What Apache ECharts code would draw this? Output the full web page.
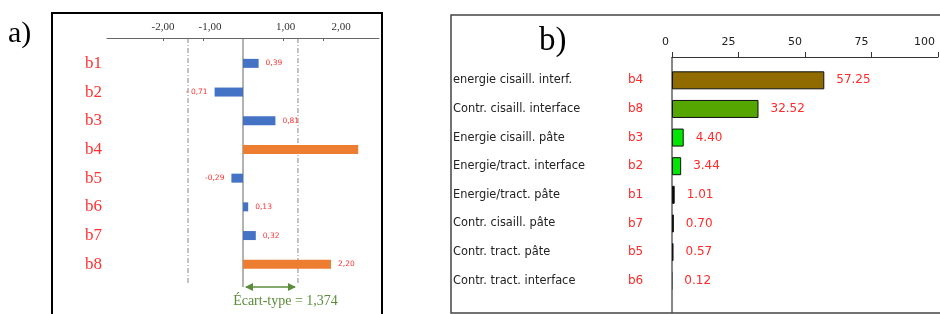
<!DOCTYPE html>
<html>
<head>
<meta charset="utf-8">
<script src="https://cdn.jsdelivr.net/npm/echarts@6/dist/echarts.min.js"></script>
<style>
  html, body { margin: 0; padding: 0; background: #fff; }
  #chart { width: 940px; height: 314px; }
</style>
</head>
<body>
<div id="chart"></div>
<script>
// ---- Panel a) data ----
const categoriesA = ['b1', 'b2', 'b3', 'b4', 'b5', 'b6', 'b7', 'b8'];
const valuesA = [0.39, -0.71, 0.81, 2.88, -0.29, 0.13, 0.32, 2.20];
const valueLabelsA = ['0,39', '- 0,71', '0,81', '', '-0,29', '0,13', '0,32', '2,20'];
const highlightedA = ['b4', 'b8'];
const tickValuesA = [-2, -1, 1, 2];
const stdDevA = 1.374;
const stdDevTextA = 'Écart-type = 1,374';

// ---- Panel b) data ----
const namesB = ['energie cisaill. interf.', 'Contr. cisaill. interface', 'Energie cisaill. pâte',
  'Energie/tract. interface', 'Energie/tract. pâte', 'Contr. cisaill. pâte',
  'Contr. tract. pâte', 'Contr. tract. interface'];
const codesB = ['b4', 'b8', 'b3', 'b2', 'b1', 'b7', 'b5', 'b6'];
const valuesB = [57.25, 32.52, 4.40, 3.44, 1.01, 0.70, 0.57, 0.12];
const colorsB = ['#8f6b00', '#55a600', '#00e600', '#00e600', '#000000', '#000000', '#000000', '#000000'];

const chart = echarts.init(document.getElementById('chart'), null, { renderer: 'canvas' });

const dataA = valuesA.map((v, i) => ({
  value: v,
  itemStyle: { color: highlightedA.includes(categoriesA[i]) ? '#ed7d31' : '#4472c4' },
  label: {
    show: valueLabelsA[i] !== '',
    position: v < 0 ? 'left' : 'right',
    formatter: valueLabelsA[i]
  }
}));

const dataB = valuesB.map((v, i) => ({
  value: v,
  itemStyle: { color: colorsB[i], borderWidth: v < 0.3 ? 0 : 1 }
}));

// label nudges reproducing the source's slightly displaced tick labels
const tickLabelStyleA = { '-2': 't0', '-1': 't1', '1': 't2', '2': 't3' };

const option = {
  animation: false,
  backgroundColor: '#ffffff',
  grid: [
    { left: 107, right: 940 - 379, top: 49, height: 229.6, containLabel: false },
    { left: 672, right: 2, top: 66, height: 229, containLabel: false }
  ],
  xAxis: [
    {
      gridIndex: 0, type: 'value', position: 'top', offset: 11,
      min: -3.4, max: 3.4,
      axisLine: { show: true, lineStyle: { color: '#666', width: 1 } },
      axisTick: { show: true, inside: true, length: 3, customValues: tickValuesA, lineStyle: { color: '#666' } },
      axisLabel: {
        customValues: tickValuesA,
        formatter: v => '{' + tickLabelStyleA[String(v)] + '|' + v.toFixed(2).replace('.', ',') + '}',
        fontFamily: 'Liberation Serif', fontSize: 11, color: '#333', margin: 5,
        rich: {
          t0: { fontFamily: 'Liberation Serif', fontSize: 11, color: '#333' },
          t1: { fontFamily: 'Liberation Serif', fontSize: 11, color: '#333', padding: [0, 0, 0, 14] },
          t2: { fontFamily: 'Liberation Serif', fontSize: 11, color: '#333', padding: [0, 0, 0, 5] },
          t3: { fontFamily: 'Liberation Serif', fontSize: 11, color: '#333', padding: [0, 0, 0, 36] }
        }
      },
      splitLine: { show: false }
    },
    {
      gridIndex: 1, type: 'value', position: 'top', offset: 9,
      min: 0, max: 100, interval: 25,
      axisLine: { show: true, lineStyle: { color: '#333', width: 1 } },
      axisTick: { show: true, inside: false, length: 5, lineStyle: { color: '#333' } },
      axisLabel: {
        fontFamily: 'DejaVu Sans', fontSize: 11, color: '#222', margin: 9,
        align: 'right', padding: [0, 3, 0, 0], showMaxLabel: true
      },
      splitLine: { show: false }
    }
  ],
  yAxis: [
    {
      gridIndex: 0, type: 'category', data: categoriesA, inverse: true,
      axisLine: { show: false, onZero: false }, axisTick: { show: false },
      axisLabel: { fontFamily: 'Liberation Serif', fontSize: 17, color: '#ff3333', margin: 5 }
    },
    {
      gridIndex: 1, type: 'category', data: codesB, inverse: true,
      axisLine: { show: false }, axisTick: { show: false },
      axisLabel: {
        align: 'left', margin: 219,
        formatter: (v, i) => '{n|' + namesB[i] + '}{c|' + codesB[i] + '}',
        rich: {
          n: { fontFamily: 'DejaVu Sans', fontSize: 11.4, color: '#222', width: 175 },
          c: { fontFamily: 'DejaVu Sans', fontSize: 12, color: '#ff2a2a' }
        }
      }
    }
  ],
  series: [
    {
      type: 'bar', xAxisIndex: 0, yAxisIndex: 0, data: dataA, barWidth: 9,
      label: { fontFamily: 'DejaVu Sans', fontSize: 7.5, color: '#ff3333', distance: 7 }
    },
    {
      type: 'bar', xAxisIndex: 1, yAxisIndex: 1, data: dataB, barWidth: 18,
      itemStyle: { borderColor: '#111', borderWidth: 1 },
      label: {
        show: true, position: 'right', distance: 12,
        formatter: p => p.value.toFixed(2),
        fontFamily: 'DejaVu Sans', fontSize: 12, color: '#ff2a2a'
      }
    }
  ]
};

chart.setOption(option);

// Decorations derived from the axes' own scales
const zeroX = chart.convertToPixel({ xAxisIndex: 0 }, 0);
const plusX = chart.convertToPixel({ xAxisIndex: 0 }, stdDevA);
const minusX = chart.convertToPixel({ xAxisIndex: 0 }, -stdDevA);
const axisAY = 38, lineBottomA = 287;
const zeroXB = chart.convertToPixel({ xAxisIndex: 1 }, 0);
const green = '#5b8c3a';

chart.setOption({
  graphic: [
    // frames
    { type: 'rect', shape: { x: 52, y: 13, width: 330, height: 320 }, style: { fill: 'none', stroke: '#000', lineWidth: 2 }, z: 1 },
    { type: 'rect', shape: { x: 451, y: 15, width: 500, height: 298 }, style: { fill: 'none', stroke: '#444', lineWidth: 1.5 }, z: 1 },
    // panel titles
    { type: 'text', left: 8, top: 19, style: { text: 'a)', font: '30px "Liberation Serif"', fill: '#000' } },
    { type: 'text', left: 539, top: 25, style: { text: 'b)', font: '33px "Liberation Serif"', fill: '#000' } },
    // panel a vertical lines
    { type: 'line', shape: { x1: zeroX, y1: axisAY, x2: zeroX, y2: lineBottomA }, style: { stroke: '#999', lineWidth: 1.5 }, z: 0 },
    { type: 'line', shape: { x1: plusX, y1: axisAY, x2: plusX, y2: lineBottomA - 2 }, style: { stroke: '#888', lineWidth: 1, lineDash: [5, 2, 1, 2] }, z: 0 },
    { type: 'line', shape: { x1: minusX, y1: axisAY, x2: minusX, y2: lineBottomA - 2 }, style: { stroke: '#888', lineWidth: 1, lineDash: [5, 2, 1, 2] }, z: 0 },
    // std dev arrow
    { type: 'line', shape: { x1: zeroX + 3, y1: lineBottomA, x2: plusX - 3, y2: lineBottomA }, style: { stroke: green, lineWidth: 1.3 } },
    { type: 'polygon', shape: { points: [[zeroX + 2, lineBottomA], [zeroX + 10, lineBottomA - 4], [zeroX + 10, lineBottomA + 4]] }, style: { fill: green } },
    { type: 'polygon', shape: { points: [[plusX - 2, lineBottomA], [plusX - 10, lineBottomA - 4], [plusX - 10, lineBottomA + 4]] }, style: { fill: green } },
    { type: 'text', x: (zeroX + plusX) / 2 + 15, y: 301, style: { text: stdDevTextA, font: '14px "Liberation Serif"', fill: green, align: 'center', verticalAlign: 'middle' } },
    // panel b vertical axis line
    { type: 'line', shape: { x1: zeroXB, y1: 57, x2: zeroXB, y2: 313 }, style: { stroke: '#111', lineWidth: 1 } }
  ]
});
</script>
</body>
</html>
